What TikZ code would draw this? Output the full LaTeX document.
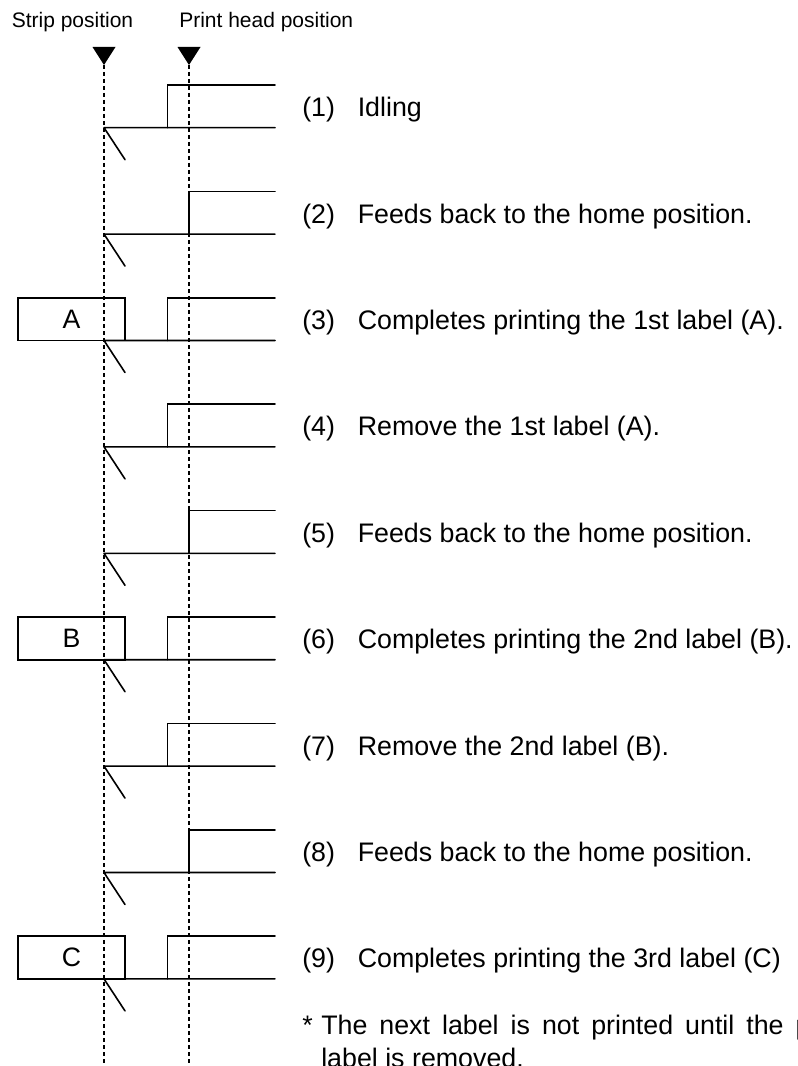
\documentclass[tikz,border=0pt]{standalone}
\usepackage{fontspec}
\setmainfont{Liberation Sans}
\usetikzlibrary{positioning}

\begin{document}
\begin{tikzpicture}[x=0.75pt, y=-0.75pt,
  feed/.style={line width=1.2pt, line cap=round},
  guide/.style={line width=1.1pt, dash pattern=on 3pt off 2.25pt},
  marker/.style={fill=black},
  labelbox/.style={rectangle, draw, line width=1.2pt, minimum width=80.25pt, minimum height=32pt, inner sep=0pt, font=\fontsize{20pt}{24pt}\selectfont},
  headtext/.style={anchor=base west, inner sep=0pt, font=\fontsize{15.75pt}{19pt}\selectfont},
  steptext/.style={anchor=base west, inner sep=0pt, font=\fontsize{20.1pt}{24pt}\selectfont}]

\useasboundingbox (0,0) rectangle (797,1066);

% positions
\node[headtext] (striphead) at (11.5,27.3) {Strip position};
\node[headtext] (printhead) at (179,27.3) {Print head position};
\coordinate (stripmark) at (104,65);
\coordinate (printmark) at (189,65);
\coordinate (stripend) at (104,1072);
\coordinate (printend) at (189,1072);
\fill[marker] (stripmark) -- ++(-11.5,-18) -- ++(23,0) -- cycle;
\fill[marker] (printmark) -- ++(-11.5,-18) -- ++(23,0) -- cycle;
\draw[guide] (stripmark) -- (stripend);
\draw[guide] (printmark) -- (printend);

% (1)
\coordinate (s1) at (104,127.7);
\coordinate (e1) at (275,127.7);
\draw[feed] (s1) -- (e1) (s1) -- ++(21,32);
\draw[feed] (167.5,127.7) |- (275,85);
\node[steptext] (n1) at (302,116.7) {(1)};
\node[steptext] (t1) at (357.5,116.7) {Idling};

% (2)
\coordinate (s2) at (104,234.1);
\coordinate (e2) at (275,234.1);
\draw[feed] (s2) -- (e2) (s2) -- ++(21,32);
\draw[feed] (189,234.1) |- (275,191.4);
\node[steptext] (n2) at (302,223.1) {(2)};
\node[steptext] (t2) at (357.5,223.1) {Feeds back to the home position.};

% (3)
\node[labelbox] (boxA) at (71.5,319.2) {A};
\coordinate (s3) at (104,340.5);
\coordinate (e3) at (275,340.5);
\draw[feed] (s3) -- (e3) (s3) -- ++(21,32);
\draw[feed] (167.5,340.5) |- (275,297.8);
\node[steptext] (n3) at (302,329.5) {(3)};
\node[steptext] (t3) at (357.5,329.5) {Completes printing the 1st label (A).};

% (4)
\coordinate (s4) at (104,446.9);
\coordinate (e4) at (275,446.9);
\draw[feed] (s4) -- (e4) (s4) -- ++(21,32);
\draw[feed] (167.5,446.9) |- (275,404.2);
\node[steptext] (n4) at (302,435.9) {(4)};
\node[steptext] (t4) at (357.5,435.9) {Remove the 1st label (A).};

% (5)
\coordinate (s5) at (104,553.3);
\coordinate (e5) at (275,553.3);
\draw[feed] (s5) -- (e5) (s5) -- ++(21,32);
\draw[feed] (189,553.3) |- (275,510.6);
\node[steptext] (n5) at (302,542.3) {(5)};
\node[steptext] (t5) at (357.5,542.3) {Feeds back to the home position.};

% (6)
\node[labelbox] (boxB) at (71.5,638.4) {B};
\coordinate (s6) at (104,659.7);
\coordinate (e6) at (275,659.7);
\draw[feed] (s6) -- (e6) (s6) -- ++(21,32);
\draw[feed] (167.5,659.7) |- (275,617);
\node[steptext] (n6) at (302,648.7) {(6)};
\node[steptext] (t6) at (357.5,648.7) {Completes printing the 2nd label (B).};

% (7)
\coordinate (s7) at (104,766.1);
\coordinate (e7) at (275,766.1);
\draw[feed] (s7) -- (e7) (s7) -- ++(21,32);
\draw[feed] (167.5,766.1) |- (275,723.4);
\node[steptext] (n7) at (302,755.1) {(7)};
\node[steptext] (t7) at (357.5,755.1) {Remove the 2nd label (B).};

% (8)
\coordinate (s8) at (104,872.5);
\coordinate (e8) at (275,872.5);
\draw[feed] (s8) -- (e8) (s8) -- ++(21,32);
\draw[feed] (189,872.5) |- (275,829.8);
\node[steptext] (n8) at (302,861.5) {(8)};
\node[steptext] (t8) at (357.5,861.5) {Feeds back to the home position.};

% (9)
\node[labelbox] (boxC) at (71.5,957.6) {C};
\coordinate (s9) at (104,978.9);
\coordinate (e9) at (275,978.9);
\draw[feed] (s9) -- (e9) (s9) -- ++(21,32);
\draw[feed] (167.5,978.9) |- (275,936.2);
\node[steptext] (n9) at (302,967.9) {(9)};
\node[steptext] (t9) at (357.5,967.9) {Completes printing the 3rd label (C)};

% note
\node[steptext] (star) at (302,1034.5) {*};
\node[steptext] (note) at (321,1034.5) {\spaceskip=9pt The next label is not printed until the p};
\node[steptext] (note2) at (321,1067.5) {label is removed.};

\end{tikzpicture}
\end{document}
